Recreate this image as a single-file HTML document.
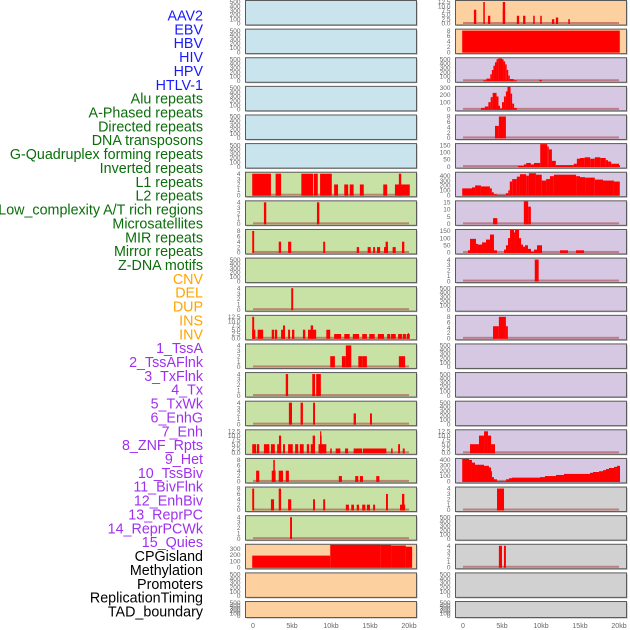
<!DOCTYPE html>
<html><head><meta charset="utf-8"><style>
html,body{margin:0;padding:0;background:#fff;}
svg{display:block;font-family:"Liberation Sans",sans-serif;}
</style></head><body>
<svg id="chart" width="630" height="630" viewBox="0 0 630 630"></svg>
<script>
const labelNames=["AAV2","EBV","HBV","HIV","HPV","HTLV-1","Alu repeats","A-Phased repeats","Directed repeats","DNA transposons","G-Quadruplex forming repeats","Inverted repeats","L1 repeats","L2 repeats","Low_complexity A/T rich regions","Microsatellites","MIR repeats","Mirror repeats","Z-DNA motifs","CNV","DEL","DUP","INS","INV","1_TssA","2_TssAFlnk","3_TxFlnk","4_Tx","5_TxWk","6_EnhG","7_Enh","8_ZNF_Rpts","9_Het","10_TssBiv","11_BivFlnk","12_EnhBiv","13_ReprPC","14_ReprPCWk","15_Quies","CPGisland","Methylation","Promoters","ReplicationTiming","TAD_boundary"];
const labelGroups=[6,13,5,15,5];
const groupColors=["#1a1aff","#0a6e0a","#ffa500","#a030f0","#000000"];
const xTickValues=[0,5,10,15,20];
const xTickLabels=["0","5kb","10kb","15kb","20kb"];

const t500=[0,100,200,300,400,500];
const t4=[0,1,2,3,4];
const t8=[0,2,4,6,8];
const t12=[0,2.5,5,7.5,10,12.5];

const L6=[[-0.1,2.3,4],[2.9,3.6,4],[6.2,7.7,4],[7.8,8.3,4],[8.6,10.1,4],[10.4,10.9,2],[11.7,12.2,2],[12.4,12.9,2],[13.7,14.2,2],[16.7,17.2,2],[18.2,20.1,2],[18.7,19.0,4]];
const L7=[[1.4,1.7,4],[8.2,8.5,4]];
const L8=[[-0.1,0.15,8],[3.3,3.6,4],[4.5,4.9,4],[9.0,9.25,4],[13.3,13.6,2],[14.7,15.1,2],[15.4,15.65,2],[15.9,16.3,2],[16.8,17.3,2],[17.0,17.3,4],[17.9,18.3,2],[19.1,19.4,4]];
const L10=[[4.9,5.15,4]];
const L11=[[-0.1,0.3,5],[-0.1,0.15,12.5],[0.6,1.3,5],[2.4,2.7,5],[2.8,3.1,5],[3.6,4.1,5],[3.85,4.1,7.5],[4.5,4.75,5],[5.0,5.3,5],[6.4,6.7,5],[7.05,8.1,5],[7.4,7.7,7.5],[9.4,9.9,5],[10.4,11.3,2.5],[11.7,12.4,2.5],[12.8,13.6,2.5],[14.0,14.6,2.5],[14.9,15.6,2.5],[16.0,16.8,2.5],[17.2,17.6,2.5],[17.7,18.3,2.5],[18.6,19.1,2.5],[19.2,19.6,2.5],[19.7,20.1,2.5],[19.85,20.0,3]];
const L12=[[9.9,10.5,2],[11.4,11.9,2],[11.9,12.6,4],[13.5,14.0,2],[14.0,14.6,2],[18.7,19.5,2]];
const L13=[[4.2,4.5,4],[7.6,7.95,4],[8.1,8.7,4]];
const L14=[[4.6,5.0,4],[6.1,6.4,4],[7.7,7.95,4],[12.9,13.2,2],[15.0,15.25,2]];
const L15=[[-0.1,0.4,5],[0.5,0.8,5],[1.4,2.1,5],[2.3,2.8,5],[3.1,3.6,5],[3.33,3.6,10],[3.85,4.1,5],[4.5,5.1,5],[5.4,5.8,5],[6.0,6.5,5],[6.9,7.2,5],[7.4,7.95,5],[7.65,7.95,10],[8.4,9.4,5],[8.6,8.8,10],[8.6,8.75,12.5],[9.9,10.1,2.5],[10.6,11.2,2.5],[11.8,12.2,2.5],[12.9,14.0,2.5],[14.1,17.1,2.5],[17.7,17.9,2.5],[18.6,18.85,5],[19.2,19.45,2.5]];
const L16=[[0.4,0.8,4],[2.4,2.9,4],[2.6,2.8,8],[3.3,3.85,4],[4.2,4.6,4],[11.0,11.4,2],[13.1,13.5,2],[13.7,14.1,2],[15.8,16.2,2]];
const L17=[[-0.1,0.15,8],[2.3,2.7,4],[3.3,3.6,8],[4.5,4.9,4],[7.7,7.95,4],[9.0,9.25,4],[11.9,12.3,2],[12.6,12.95,2],[13.3,13.6,2],[14.0,14.4,2],[14.6,15.0,2],[15.4,15.65,2],[17.05,17.3,6],[18.85,19.5,2],[19.1,19.4,6]];
const L18=[[4.75,5.0,4]];
const L19=[[-0.1,9.9,190],[9.9,16.3,370],[16.3,17.7,365],[17.7,19.6,355],[19.6,20.4,335]];

const R0=[[1.4,1.7,8],[2.6,2.8,12.5],[3.2,3.5,4.5],[5.1,5.4,12.5],[5.1,5.4,8],[6.9,7.2,4.5],[7.7,8.0,4.5],[9.0,9.2,4.5],[9.9,10.1,4.5],[11.4,11.7,2.5],[11.9,12.2,3.5],[13.5,13.7,2.5]];
const R1=[[-0.1,20.1,8]];
const R2=[[2.6,3.0,10],[3.0,3.5,50],[3.5,3.7,150],[3.7,3.9,250],[3.9,4.1,350],[4.1,4.3,430],[4.3,4.5,500],[4.5,5.0,520],[5.0,5.2,500],[5.2,5.4,450],[5.4,5.6,380],[5.6,5.8,250],[5.8,6.0,120],[6.0,6.5,40],[6.5,6.9,10],[9.8,10.1,20]];
const R3=[[2.3,2.8,20],[2.8,3.25,40],[3.25,3.55,100],[3.55,3.8,170],[3.8,4.3,230],[4.3,4.55,180],[4.55,4.75,50],[4.75,5.0,10],[5.0,5.25,100],[5.25,5.5,180],[5.5,5.7,250],[5.7,6.1,330],[6.1,6.3,220],[6.3,6.55,80],[6.55,6.9,20]];
const R4=[[4.1,4.6,4.5],[4.6,5.5,8]];
const R5=[[7.05,7.8,5],[7.8,8.1,15],[8.1,8.7,25],[8.7,9.1,15],[9.1,9.9,25],[9.9,10.8,160],[10.8,11.0,140],[11.0,11.4,120],[11.4,11.9,40],[11.9,14.2,10],[14.2,14.6,20],[14.6,15.0,55],[15.0,15.6,60],[15.6,16.3,65],[16.3,16.9,55],[16.9,17.6,65],[17.6,18.3,60],[18.3,18.6,45],[18.6,19.0,35],[19.0,20.0,20],[20.0,20.1,10]];
const R6=[[-0.1,1.15,140],[1.15,1.55,160],[1.55,2.3,200],[2.3,3.45,180],[3.45,3.7,140],[3.7,3.95,60],[3.95,4.35,20],[4.35,5.5,5],[5.5,5.8,40],[5.8,6.0,100],[6.0,6.3,280],[6.3,6.9,330],[6.9,7.3,380],[7.3,8.1,430],[8.1,8.45,400],[8.45,9.35,450],[9.35,10.1,420],[10.1,10.65,300],[10.65,11.15,330],[11.15,11.65,390],[11.65,14.5,420],[14.5,15.0,390],[15.0,15.65,370],[15.65,16.9,360],[16.9,17.95,320],[17.95,19.35,300],[19.35,20.1,280]];
const R7=[[3.85,4.4,4],[7.8,8.35,17],[8.35,8.7,12]];
const R8=[[0.64,0.9,15],[0.9,1.67,95],[1.67,1.92,60],[1.92,2.44,55],[2.44,2.95,70],[2.95,3.46,90],[3.46,3.97,125],[3.97,4.36,15],[5.26,5.51,20],[5.51,5.77,50],[5.77,6.03,100],[6.03,6.54,170],[6.54,6.67,140],[6.67,7.18,165],[7.18,7.44,100],[7.44,7.69,55],[7.69,7.95,40],[7.95,8.33,50],[8.33,8.72,25],[8.72,9.1,5],[9.1,9.49,20],[9.49,10.13,50],[12.44,13.46,15],[14.49,15.51,15]];
const R9=[[9.2,9.7,4]];
const R11=[[3.85,4.6,4.5],[4.6,5.5,8],[5.5,5.75,4.5]];
const R15=[[0.9,2.05,5],[2.05,2.7,10],[2.7,3.2,12.5],[3.2,3.6,10],[3.6,4.1,5]];
const R16=[[-0.1,0.77,420],[0.77,1.15,400],[1.15,1.54,350],[1.54,2.69,310],[2.69,3.33,290],[3.33,3.59,260],[3.59,3.72,190],[3.72,3.97,80],[3.97,4.36,40],[4.36,5.51,5],[5.51,5.9,40],[5.9,6.28,60],[6.28,9.87,70],[9.87,10.51,80],[10.51,11.92,100],[11.92,12.95,120],[12.95,16.28,140],[16.28,16.67,160],[16.67,17.44,175],[17.44,17.95,190],[17.95,18.33,210],[18.33,18.72,230],[18.72,19.36,250],[19.36,19.74,270],[19.74,20.13,290]];
const R17=[[4.36,5.26,4]];
const R19=[[4.6,5.0,4],[5.25,5.5,4]];

const BLUE="#c9e4ec",GREEN="#c8e1a5",PEACH="#fdd09f",LAV="#d6c7e3",GREY="#d1d1d1";
// [bars, ticks, ymax, fill]
const leftPanels=[
[null,t500,500,BLUE],[null,t500,500,BLUE],[null,t500,500,BLUE],[null,t500,500,BLUE],[null,t500,500,BLUE],[null,t500,500,BLUE],
[L6,t4,4,GREEN],[L7,t4,4,GREEN],[L8,t8,8,GREEN],[null,t500,500,GREEN],[L10,t4,4,GREEN],[L11,t12,12.5,GREEN],
[L12,t4,4,GREEN],[L13,t4,4,GREEN],[L14,t4,4,GREEN],[L15,t12,12.5,GREEN],[L16,t8,8,GREEN],[L17,t8,8,GREEN],[L18,t4,4,GREEN],
[L19,[0,100,200,300],350,PEACH],[null,t500,500,PEACH],[null,t500,500,PEACH]];
const rightPanels=[
[R0,t12,12.5,PEACH],[R1,t8,8,PEACH],[R2,t500,500,LAV],[R3,[0,100,200,300],300,LAV],[R4,t8,8,LAV],[R5,[0,50,100,150],150,LAV],
[R6,[0,100,200,300,400],440,LAV],[R7,[0,5,10,15],15,LAV],[R8,[0,50,100,150],150,LAV],[R9,t4,4,LAV],[null,t500,500,LAV],[R11,t8,8,LAV],
[null,t500,500,LAV],[null,t500,500,LAV],[null,t500,500,LAV],[R15,t12,12.5,LAV],[R16,[0,100,200,300,400],400,LAV],
[R17,t4,4,GREY],[null,t500,500,GREY],[R19,t4,4,GREY],[null,t500,500,GREY],[null,t500,500,GREY]];

const svg=document.getElementById('chart');
const NS="http://www.w3.org/2000/svg";
function mk(tag,attrs,parent){const e=document.createElementNS(NS,tag);for(const k in attrs)e.setAttribute(k,attrs[k]);(parent||svg).appendChild(e);return e;}

let li=0;
labelGroups.forEach((n,g)=>{for(let i=0;i<n;i++){
  const t=mk('text',{x:203,y:20.5+li*13.86,'text-anchor':'end','font-size':14.3,fill:groupColors[g]});
  
  
  t.textContent=labelNames[li];li++;}});

const colX=[245.5,455.5], panelW=171;
function xScale(col,kb){return colX[col]+7.5+kb*7.8;}
function rowTop(r){return 0.5+r*28.62;}
function rowH(r){return r===21?16:24.5;}
function fmt(v,ticks){return ticks===t12?v.toFixed(1):String(v);}

let clipId=0;
function drawPanel(col,r,p){
  const [bars,ticks,ymax,fill]=p;
  const top=rowTop(r),h=rowH(r),x0=colX[col];
  const g=mk('g',{});
  
  
  mk('rect',{x:x0+1,y:top+1,width:panelW,height:h,fill:'#b0b0b0'},g);
  const bg=mk('rect',{x:x0,y:top,width:panelW,height:h,fill:fill,stroke:'#5a5a5a','stroke-width':1},g);
  
  
  const y0=top+h-1.5,y1=top+1.5;
  const yScale=v=>y0-(v/ymax)*(y0-y1);
  ticks.forEach(v=>{
    const t=mk('text',{x:x0-5,y:yScale(v)+2.2,'text-anchor':'end','font-size':6.5,fill:'#666'},g);
    
    
    t.textContent=fmt(v,ticks);
  });
  if(bars){
    const id='c'+(clipId++);
    const cp=mk('clipPath',{id:id},g);mk('rect',{x:x0+0.5,y:top+0.5,width:panelW-1,height:h-1},cp);
    const bg2=mk('g',{'clip-path':'url(#'+id+')'},g);
    mk('rect',{x:xScale(col,0),y:y0-1.5,width:xScale(col,20)-xScale(col,0),height:2,fill:'rgba(170,60,60,0.55)'},bg2);
    bars.forEach(b=>{
      const xa=xScale(col,b[0]),xb=xScale(col,b[1]),yv=yScale(b[2]);
      const rc=mk('rect',{x:xa,y:yv,width:Math.max(xb-xa,1),height:y0-yv+0.5,fill:'#ff0000'},bg2);
      
      
    });
  }
}
leftPanels.forEach((p,r)=>drawPanel(0,r,p));
rightPanels.forEach((p,r)=>drawPanel(1,r,p));

[0,1].forEach(col=>{xTickValues.forEach((v,i)=>{
  const t=mk('text',{x:xScale(col,v),y:628,'text-anchor':'middle','font-size':7,fill:'#666'});
  
  
  t.textContent=xTickLabels[i];
});});
</script>
</body></html>
